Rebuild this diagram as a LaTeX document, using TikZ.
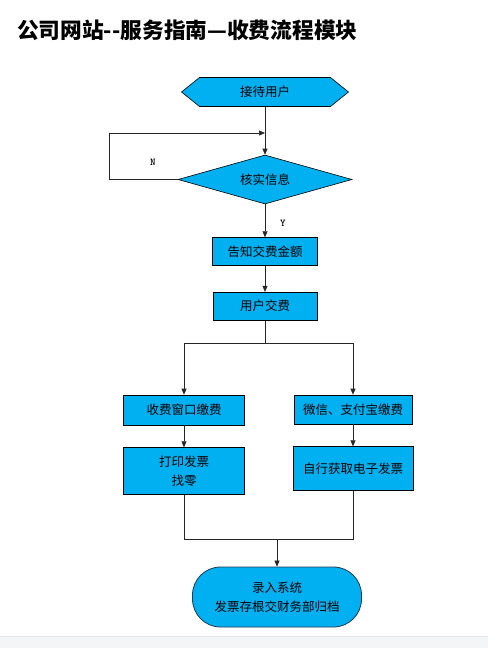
\documentclass[tikz,border=0pt]{standalone}
\usepackage{fontspec}
\setmainfont{Noto Sans CJK SC}
\usepackage{xcolor}
\usetikzlibrary{positioning,arrows.meta,shapes.geometric}

\definecolor{boxcyan}{HTML}{00B0F0}
\definecolor{termblue}{HTML}{1F3A55}
\definecolor{bandgray}{HTML}{F4F5F7}
\definecolor{bandline}{HTML}{E4E5E8}

\begin{document}
\begin{tikzpicture}[
  x=1pt,y=-1pt,
  font=\fontsize{12.5}{18.5}\selectfont,
  >={Triangle[length=6pt,width=5pt]},
  line/.style={draw=black!85,line width=0.6pt},
  proc/.style={draw,fill=boxcyan,align=center,line width=0.6pt,inner sep=0pt},
  decide/.style={diamond,draw,fill=boxcyan,aspect=3.55,minimum width=174pt,minimum height=49pt,inner sep=0pt,line width=0.6pt},
  hexa/.style={minimum width=168pt,minimum height=30pt,inner sep=0pt,
    path picture={\draw[fill=boxcyan,line width=0.6pt]
      ([xshift=18.5pt,yshift=-0.5pt]path picture bounding box.north west) --
      ([xshift=-18.5pt,yshift=-0.5pt]path picture bounding box.north east) --
      ([xshift=-0.5pt]path picture bounding box.east) --
      ([xshift=-18.5pt,yshift=0.5pt]path picture bounding box.south east) --
      ([xshift=18.5pt,yshift=0.5pt]path picture bounding box.south west) --
      ([xshift=0.5pt]path picture bounding box.west) -- cycle;}},
  term/.style={draw=termblue,fill=boxcyan,rounded corners=28pt,minimum width=169pt,minimum height=60pt,align=center,line width=0.8pt},
  flag/.style={font=\ttfamily\bfseries\fontsize{10.5}{11}\selectfont,inner sep=0pt}
]
  \useasboundingbox (0,0) rectangle (488,648);
  % page band at the foot
  \fill[bandgray] (0,637) rectangle (488,648);
  \draw[bandline,line width=0.8pt] (0,636.6) -- (488,636.6);

  \node[anchor=west,inner sep=0pt,font=\bfseries\fontsize{21.7}{23}\selectfont] (title) at (17,30) {公司网站{-}{-}服务指南—收费流程模块};

  % main chain
  \node[hexa] (start) at (265,92) {接待用户};
  \node[decide,below=47.5pt of start] (check) {核实信息};
  \node[proc,minimum width=105pt,minimum height=28pt,below=33pt of check] (tell) {告知交费金额};
  \node[proc,minimum width=104pt,minimum height=28pt,below=26pt of tell] (pay) {用户交费};

  % two ways to pay
  \node[proc,minimum width=121pt,minimum height=30pt] (win) at (184,410) {收费窗口缴费};
  \node[proc,minimum width=118pt,minimum height=29pt] (wx) at (353,409.5) {微信、支付宝缴费};
  \node[proc,minimum width=121pt,minimum height=47pt,below=22pt of win] (print) {打印发票\\找零};
  \node[proc,minimum width=120pt,minimum height=44pt,below=22pt of wx] (ebill) {自行获取电子发票};

  \node[term] (finish) at (277,597) {录入系统\\发票存根交财务部归档};

  \coordinate (loopin) at (265,133);
  \coordinate (fork) at (265,343);
  \coordinate (join) at (277,539);

  \draw[line,->] (start) -- (check);
  \draw[line,->] (check.west) -- ++(-68,0) |- (loopin);
  \node[flag] (nlab) at (153,162) {N};
  \draw[line,->] (check) -- (tell);
  \node[flag] (ylab) at (283,223) {Y};
  \draw[line,->] (tell) -- (pay);
  \draw[line,->] (pay.south) -- (fork) -| (win.north);
  \draw[line,->] (fork) -| (wx.north);
  \draw[line,->] (win) -- (print);
  \draw[line,->] (wx) -- (ebill);
  \draw[line] (print.south) |- (join);
  \draw[line] (ebill.south) |- (join);
  \draw[line,->] (join) -- (finish.north);
\end{tikzpicture}
\end{document}
